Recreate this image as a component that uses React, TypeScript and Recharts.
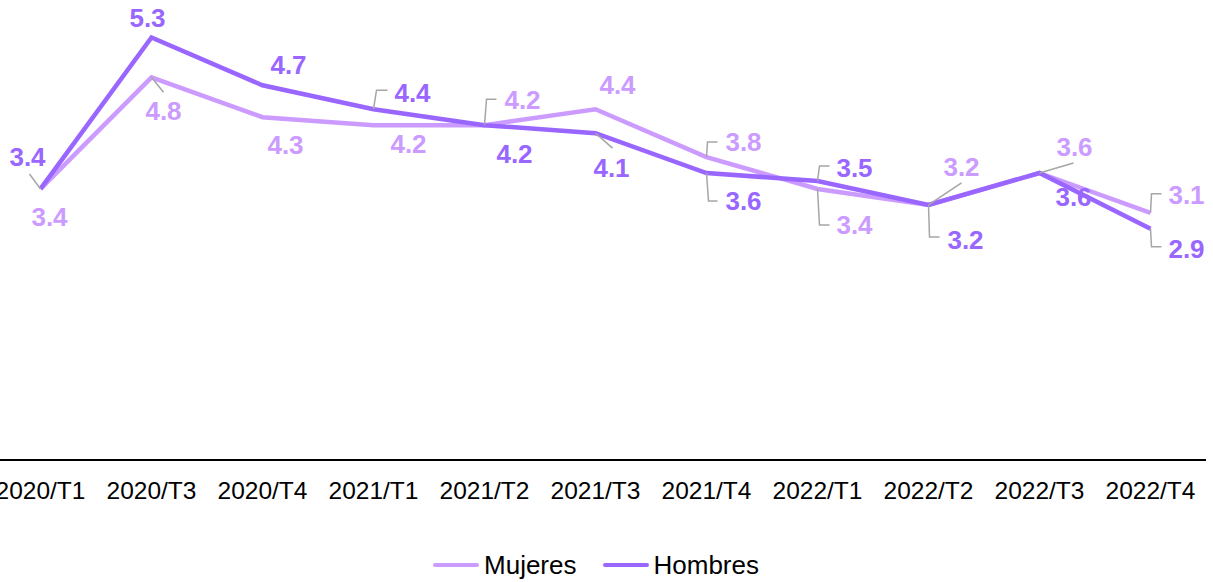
import React from "react"
import { LineChart, Line, XAxis, YAxis, LabelList, Legend } from "recharts"

const CATEGORIES = [
  "2020/T1",
  "2020/T3",
  "2020/T4",
  "2021/T1",
  "2021/T2",
  "2021/T3",
  "2021/T4",
  "2022/T1",
  "2022/T2",
  "2022/T3",
  "2022/T4",
]
const MUJERES = [3.4, 4.8, 4.3, 4.2, 4.2, 4.4, 3.8, 3.4, 3.2, 3.6, 3.1]
const HOMBRES = [3.4, 5.3, 4.7, 4.4, 4.2, 4.1, 3.6, 3.5, 3.2, 3.6, 2.9]

const MUJERES_COLOR = "#cc9bff"
const HOMBRES_COLOR = "#9966ff"
const FONT = "'Liberation Sans', Arial, sans-serif"

type LabelPos = { dx: number; dy: number; leader?: number[][] }

// label placement relative to each point (Excel style, with leader lines)
const MUJERES_LABELS: LabelPos[] = [
  { dx: 9, dy: 28 },
  { dx: 12, dy: 34, leader: [[0, 0], [12, 15]] },
  { dx: 23, dy: 28 },
  { dx: 35, dy: 19 },
  { dx: 38, dy: -25, leader: [[0, 0], [2, -26], [12, -26]] },
  { dx: 22, dy: -24 },
  { dx: 37, dy: -15, leader: [[0, 0], [1, -15], [11, -15]] },
  { dx: 37, dy: 36, leader: [[0, 0], [2, 36], [12, 36]] },
  { dx: 33, dy: -38, leader: [[0, 0], [33, -22]] },
  { dx: 35, dy: -26, leader: [[0, 0], [34, -10]] },
  { dx: 36, dy: -18, leader: [[0, 0], [1, -19], [11, -19]] },
]

const HOMBRES_LABELS: LabelPos[] = [
  { dx: -13, dy: -32, leader: [[0, 0], [-11, -15]] },
  { dx: -4, dy: -19 },
  { dx: 26, dy: -20 },
  { dx: 39, dy: -16, leader: [[0, 0], [3, -19], [14, -19]] },
  { dx: 30, dy: 29 },
  { dx: 16, dy: 35, leader: [[0, 0], [17, 15]] },
  { dx: 37, dy: 28, leader: [[0, 0], [2, 28], [11, 28]] },
  { dx: 37, dy: -13, leader: [[0, 0], [2, -15], [12, -15]] },
  { dx: 37, dy: 35, leader: [[0, 0], [1, 32], [11, 32]] },
  { dx: 34, dy: 24 },
  { dx: 36, dy: 20, leader: [[0, 0], [1, 18], [11, 18]] },
]

const data = CATEGORIES.map((c, i) => ({
  periodo: c,
  mujeres: MUJERES[i],
  hombres: HOMBRES[i],
}))

function makeLabel(positions: LabelPos[], color: string) {
  return (props: any) => {
    const { x, y, value, index } = props
    const pos = positions[index]
    if (!pos || x == null || y == null) return null
    return (
      <g>
        {pos.leader && (
          <polyline
            points={pos.leader.map(([lx, ly]) => `${x + lx},${y + ly}`).join(" ")}
            fill="none"
            stroke="#a6a6a6"
            strokeWidth={1.5}
          />
        )}
        <text
          x={x + pos.dx}
          y={y + pos.dy}
          textAnchor="middle"
          dominantBaseline="central"
          fill={color}
          fontSize={26}
          fontWeight="bold"
          fontFamily={FONT}
        >
          {Number(value).toFixed(1)}
        </text>
      </g>
    )
  }
}

function renderTick(props: any) {
  const { x, y, payload } = props
  return (
    <text
      x={x}
      y={y + 30}
      textAnchor="middle"
      dominantBaseline="central"
      fill="#000"
      fontSize={24.5}
      fontFamily={FONT}
    >
      {payload.value}
    </text>
  )
}

function LegendItem({ color, label }: { color: string; label: string }) {
  return (
    <div style={{ display: "flex", alignItems: "center" }}>
      <span
        style={{
          display: "inline-block",
          width: 46,
          height: 4,
          borderRadius: 2,
          background: color,
          marginRight: 5,
        }}
      />
      <span style={{ fontSize: 26, color: "#000", fontFamily: FONT }}>{label}</span>
    </div>
  )
}

function renderLegend() {
  return (
    <div
      style={{
        height: 30,
        display: "flex",
        justifyContent: "center",
        alignItems: "center",
        gap: 26,
        paddingRight: 21,
      }}
    >
      <LegendItem color={MUJERES_COLOR} label="Mujeres" />
      <LegendItem color={HOMBRES_COLOR} label="Hombres" />
    </div>
  )
}

export default function App() {
  return (
    <div style={{ position: "absolute", left: -15, top: 0, fontFamily: FONT }}>
      <LineChart
        width={1228}
        height={582}
        data={data}
        margin={{ top: 0, right: 7, left: 0, bottom: 62 }}
      >
        <XAxis
          dataKey="periodo"
          axisLine={{ stroke: "#000", strokeWidth: 2 }}
          tickLine={false}
          tickSize={0}
          tickMargin={0}
          tick={renderTick}
          interval={0}
          padding={{ left: 55.5, right: 55.5 }}
        />
        <YAxis hide domain={[0, 5.77]} />
        {/* labels first so the lines are drawn over them */}
        <Line
          dataKey="mujeres"
          stroke="none"
          dot={false}
          activeDot={false}
          legendType="none"
          isAnimationActive={false}
        >
          <LabelList dataKey="mujeres" content={makeLabel(MUJERES_LABELS, MUJERES_COLOR)} />
        </Line>
        <Line
          dataKey="hombres"
          stroke="none"
          dot={false}
          activeDot={false}
          legendType="none"
          isAnimationActive={false}
        >
          <LabelList dataKey="hombres" content={makeLabel(HOMBRES_LABELS, HOMBRES_COLOR)} />
        </Line>
        <Line
          dataKey="mujeres"
          name="Mujeres"
          stroke={MUJERES_COLOR}
          strokeWidth={4.5}
          dot={false}
          activeDot={false}
          isAnimationActive={false}
        />
        <Line
          dataKey="hombres"
          name="Hombres"
          stroke={HOMBRES_COLOR}
          strokeWidth={4.5}
          dot={false}
          activeDot={false}
          isAnimationActive={false}
        />
        <Legend
          verticalAlign="bottom"
          content={renderLegend}
          wrapperStyle={{ left: 15, width: 1213, top: 550, bottom: "auto" }}
        />
      </LineChart>
    </div>
  )
}
